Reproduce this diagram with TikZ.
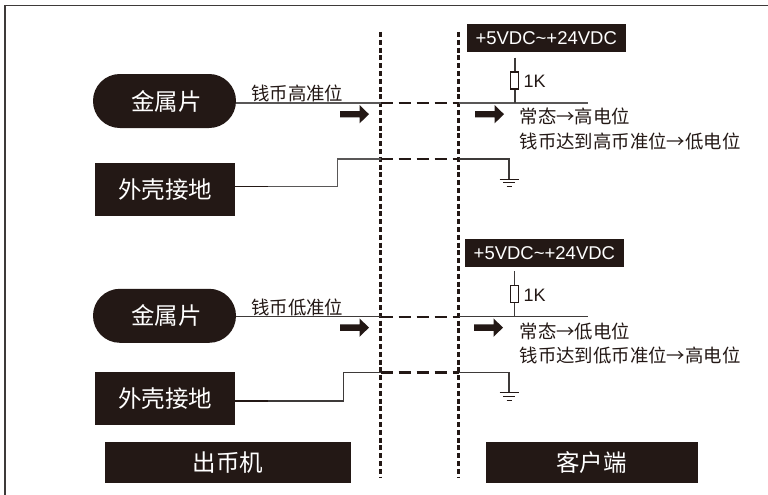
\documentclass[tikz,border=0pt]{standalone}
\usepackage{fontspec}
\setmainfont{Liberation Sans}
\newfontfamily\cjk{Noto Sans CJK SC}
\definecolor{boxblack}{HTML}{231815}
\definecolor{wirec}{HTML}{3E3A39}
\definecolor{wiregray}{HTML}{595757}
\tikzset{
  x=1pt,y=-1pt,
  darkbox/.style={fill=boxblack,draw=none,text=white,inner sep=0pt,anchor=center},
  bigtext/.style={font=\cjk\fontsize{23.5}{26}\selectfont},
  wire/.style={draw=wirec,line width=1.1pt},
  graywire/.style={draw=wiregray,line width=1.4pt},
  stub/.style={draw=boxblack,line width=1.4pt},
  dashwire/.style={draw=boxblack,line width=2.2pt,dash pattern=on 12pt off 6pt},
  divider/.style={draw=boxblack,line width=2.6pt,dash pattern=on 5pt off 2.8pt},
  flow/.style={draw=none,fill=boxblack},
  res/.style={draw=boxblack,fill=white,line width=1.1pt,minimum width=8pt,minimum height=17pt,inner sep=0pt},
  lbl/.style={inner sep=0pt,anchor=west,text=boxblack,font=\cjk\fontsize{18.4}{20}\selectfont},
  one/.style={inner sep=0pt,anchor=west,text=boxblack,font=\fontsize{18}{20}\selectfont},
}
\newcommand{\flowarrow}[2]{\fill[flow] (#1,#2-3.2) -- (#1+19.5,#2-3.2) -- (#1+19.5,#2-9.2) -- (#1+29,#2) -- (#1+19.5,#2+9.2) -- (#1+19.5,#2+3.2) -- (#1,#2+3.2) -- cycle;}
\newcommand{\gnd}[2]{%
  \draw[boxblack,line width=1pt] (#1-9.5,#2) -- (#1+9.5,#2);
  \draw[boxblack,line width=1pt] (#1-6,#2+3.7) -- (#1+6,#2+3.7);
  \draw[boxblack,line width=1pt] (#1-2.5,#2+7.5) -- (#1+2.5,#2+7.5);}
\begin{document}
\begin{tikzpicture}
\useasboundingbox (0,0) rectangle (768,495);
\fill[white] (0,0) rectangle (768,495);
\draw[wirec,line width=1.4pt] (5,495) -- (5,5.5) -- (768,5.5);

% dividers
\coordinate (d1t) at (380.7,32); \coordinate (d1b) at (380.7,477);
\coordinate (d2t) at (458.7,32); \coordinate (d2b) at (458.7,477);
\draw[divider] (d1t) -- (d1b);
\draw[divider] (d2t) -- (d2b);

% top group
\node[darkbox,minimum width=143pt,minimum height=54pt,rounded corners=26.9pt,bigtext] (pill1) at (164.5,101) {\hspace*{4pt}金属片};
\node[darkbox,minimum width=140pt,minimum height=53pt,bigtext] (case1) at (165,189.2) {外壳接地};
\node[darkbox,minimum width=159pt,minimum height=27.7pt] (pwr1) at (546.2,37.8) {\fontsize{18.5}{21}\selectfont +5VDC\textasciitilde +24VDC};
\coordinate (s1a) at (380.7,103); \coordinate (s1b) at (458.7,103); \coordinate (s1c) at (588,103);
\coordinate (g1a) at (380.7,159); \coordinate (g1b) at (458.7,159); \coordinate (g1c) at (509,159); \coordinate (g1d) at (509,179);
\coordinate (r1t) at (515,57.7); \coordinate (r1b) at (515,103);
\coordinate (c1s) at (268,186.7); \coordinate (c1k) at (337.7,186.7); \coordinate (c1u) at (337.7,159);
\draw[graywire] (pill1.east |- s1a) -- (s1a);
\draw[dashwire] (s1a) -- (s1b);
\draw[graywire] (s1b) -- (s1c);
\draw[stub] (case1.east |- c1s) -- (c1s);
\draw[graywire] (c1s) -- (c1k) -- (c1u) -- (g1a);
\draw[dashwire] (g1a) -- (g1b);
\draw[wire] (g1b) -- (g1c) -- (g1d);
\gnd{509}{179}
\draw[wire] (r1t) -- (r1b);
\node[res] (r1) at (514.9,80.5) {};
\node[one] (k1) at (523.5,81.5) {1K};
\node[lbl] (t1) at (251,93) {钱币高准位};
\node[lbl] (n1) at (519.5,116.5) {常态→高电位};
\node[lbl] (m1) at (519.5,141) {钱币达到高币准位→低电位};
\flowarrow{340}{114.2}
\flowarrow{475}{114.2}

% bottom group
\node[darkbox,minimum width=143pt,minimum height=54pt,rounded corners=26.9pt,bigtext] (pill2) at (164.5,315.8) {\hspace*{4pt}金属片};
\node[darkbox,minimum width=140pt,minimum height=53pt,bigtext] (case2) at (165,398.5) {外壳接地};
\node[darkbox,minimum width=158.7pt,minimum height=27.7pt] (pwr2) at (544.4,252.8) {\fontsize{18.5}{21}\selectfont +5VDC\textasciitilde +24VDC};
\coordinate (s2a) at (380.7,316.7); \coordinate (s2b) at (458.7,316.7); \coordinate (s2c) at (588,316.7);
\coordinate (g2a) at (380.7,372.5); \coordinate (g2b) at (458.7,372.5); \coordinate (g2c) at (509,372.5); \coordinate (g2d) at (509,392.7);
\coordinate (r2t) at (514.2,271); \coordinate (r2b) at (514.2,316.7);
\coordinate (c2s) at (268,401); \coordinate (c2k) at (343.7,401); \coordinate (c2u) at (343.7,372.5);
\draw[wire] (pill2.east |- s2a) -- (s2a);
\draw[dashwire] (s2a) -- (s2b);
\draw[wire] (s2b) -- (s2c);
\draw[stub] (case2.east |- c2s) -- (c2s);
\draw[wire] (c2s) -- (c2k) -- (c2u) -- (g2a);
\draw[dashwire] (g2a) -- (g2b);
\draw[wire] (g2b) -- (g2c) -- (g2d);
\gnd{509}{392.7}
\draw[wire] (r2t) -- (r2b);
\node[res] (r2) at (514.2,294.2) {};
\node[one] (k2) at (523.5,295) {1K};
\node[lbl] (t2) at (251,307) {钱币低准位};
\node[lbl] (n2) at (519.5,331) {常态→低电位};
\node[lbl] (m2) at (519.5,355) {钱币达到低币准位→高电位};
\flowarrow{340}{327.6}
\flowarrow{474}{327.6}

% footers
\node[darkbox,minimum width=246pt,minimum height=41pt,bigtext] (f1) at (228,462.8) {出币机};
\node[darkbox,minimum width=212pt,minimum height=41pt,bigtext] (f2) at (591.7,462.8) {客户端};
\end{tikzpicture}
\end{document}
